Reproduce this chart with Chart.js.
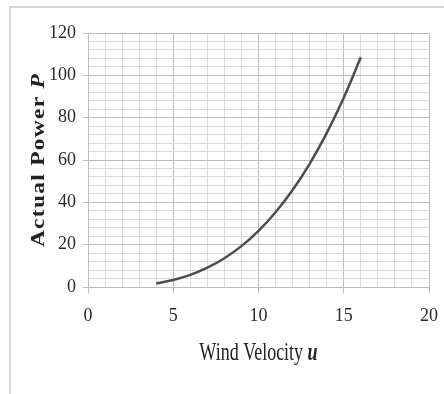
<!DOCTYPE html>
<html>
<head>
<meta charset="utf-8">
<script src="https://cdn.jsdelivr.net/npm/chart.js@4/dist/chart.umd.min.js"></script>
<style>
  html, body { margin: 0; padding: 0; background: #fff; }
  #wrap { width: 444px; height: 394px; }
</style>
</head>
<body>
<div id="wrap"><canvas id="myChart" width="444" height="394"></canvas></div>
<script>
// values
const windVelocity = [4, 5, 6, 7, 8, 9, 10, 11, 12, 13, 14, 15, 16];
const actualPower = [1.7, 3.3, 5.7, 9.1, 13.6, 19.3, 26.5, 35.3, 45.8, 58.2, 72.7, 89.4, 108.5];
const xTicks = [0, 5, 10, 15, 20];
const yTicks = [0, 20, 40, 60, 80, 100, 120];

const majorGrid = '#bcbcbc';
const minorGrid = '#dadada';

// light frame around the picture and the two axis titles with italic symbols
const decorPlugin = {
    id: 'decor',
    beforeDraw(chart) {
        const c = chart.ctx;
        c.save();
        c.strokeStyle = '#d6d6d6';
        c.lineWidth = 2;
        c.beginPath();
        c.moveTo(10, 394);
        c.lineTo(10, 7);
        c.lineTo(444, 7);
        c.stroke();
        c.restore();
    },
    afterDraw(chart) {
        const c = chart.ctx;
        const area = chart.chartArea;
        c.save();
        c.fillStyle = '#222';
        c.textBaseline = 'middle';

        // x title
        c.font = '18px "Liberation Serif", serif';
        const partA = 'Wind Velocity ';
        const wA = c.measureText(partA).width;
        c.font = 'bold italic 18px "Liberation Serif", serif';
        const wB = c.measureText('u').width;
        const cx = (area.left + area.right) / 2;
        c.translate(cx - (wA + wB) / 2, 354);
        c.scale(1, 1.35);
        c.textAlign = 'left';
        c.font = '18px "Liberation Serif", serif';
        c.fillText(partA, 0, 0);
        c.font = 'bold italic 18px "Liberation Serif", serif';
        c.fillText('u', wA, 0);
        c.restore();

        // y title
        c.save();
        c.fillStyle = '#222';
        c.textBaseline = 'middle';
        c.textAlign = 'left';
        c.font = 'bold 18px "Liberation Serif", serif';
        c.letterSpacing = '1px';
        const pA = 'Actual Power ';
        const wpA = c.measureText(pA).width;
        c.font = 'bold italic 18px "Liberation Serif", serif';
        const wpB = c.measureText('P').width;
        const cy = (area.top + area.bottom) / 2;
        c.translate(39, cy);
        c.rotate(-Math.PI / 2);
        c.scale(1.3, 1);
        c.translate(-(wpA + wpB) / 2, 0);
        c.font = 'bold 18px "Liberation Serif", serif';
        c.fillText(pA, 0, 0);
        c.font = 'bold italic 18px "Liberation Serif", serif';
        c.fillText('P', wpA, 0);
        c.restore();
    }
};

const ctx = document.getElementById('myChart').getContext('2d');
new Chart(ctx, {
    type: 'line',
    data: {
        datasets: [{
            data: windVelocity.map((u, i) => ({ x: u, y: actualPower[i] })),
            borderColor: '#4d4d4d',
            borderWidth: 2.5,
            pointRadius: 0,
            tension: 0.4,
            fill: false
        }]
    },
    options: {
        responsive: false,
        animation: false,
        layout: { padding: { top: 33, right: 15, left: 0, bottom: 0 } },
        plugins: { legend: { display: false }, tooltip: { enabled: false } },
        scales: {
            x: {
                type: 'linear',
                min: xTicks[0],
                max: xTicks[xTicks.length - 1],
                afterFit(scale) {
                    scale.height = 107;
                    scale.paddingLeft = 0;
                    scale.paddingRight = 0;
                },
                border: { color: majorGrid, width: 1 },
                grid: {
                    color: c => (xTicks.includes(c.tick.value) ? majorGrid : minorGrid),
                    tickColor: c => (xTicks.includes(c.tick.value) ? majorGrid : 'rgba(0,0,0,0)'),
                    tickLength: 6
                },
                ticks: {
                    stepSize: 1,
                    autoSkip: false,
                    maxRotation: 0,
                    padding: 12,
                    color: '#2a2a2a',
                    font: { family: '"Liberation Serif", serif', size: 18 },
                    callback: v => (xTicks.includes(v) ? v : '')
                }
            },
            y: {
                min: yTicks[0],
                max: yTicks[yTicks.length - 1],
                afterFit(scale) { scale.width = 88; },
                border: { color: majorGrid, width: 1 },
                grid: {
                    color: c => (yTicks.includes(c.tick.value) ? majorGrid : minorGrid),
                    tickColor: c => (yTicks.includes(c.tick.value) ? majorGrid : 'rgba(0,0,0,0)'),
                    tickLength: 5
                },
                ticks: {
                    stepSize: 4,
                    autoSkip: false,
                    padding: 7,
                    color: '#2a2a2a',
                    font: { family: '"Liberation Serif", serif', size: 18 },
                    callback: v => (yTicks.includes(v) ? v : '')
                }
            }
        }
    },
    plugins: [decorPlugin]
});
</script>
</body>
</html>
